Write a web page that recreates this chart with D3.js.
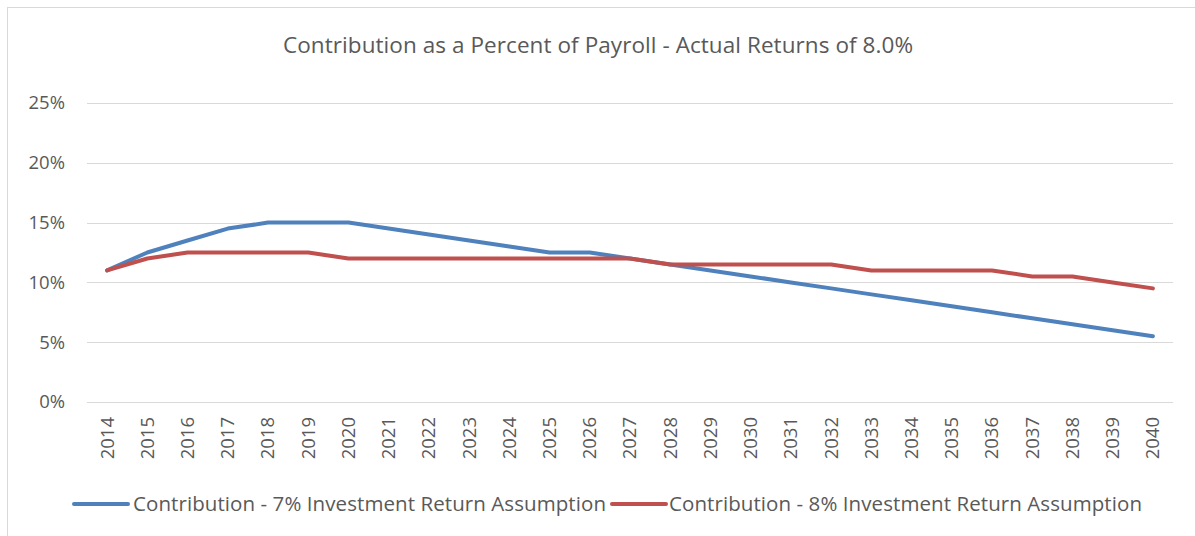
<!DOCTYPE html>
<meta charset="utf-8">
<script src="https://d3js.org/d3.v7.min.js"></script>
<style>
  body { margin: 0; background: #fff; }
  text { font-family: "Open Sans", sans-serif; fill: #595959; }
</style>
<body>
</body>
<script>
  var years = ["2014","2015","2016","2017","2018","2019","2020","2021","2022","2023","2024","2025","2026","2027",
               "2028","2029","2030","2031","2032","2033","2034","2035","2036","2037","2038","2039","2040"];
  var contrib7 = [11, 12.5, 13.5, 14.5, 15, 15, 15, 14.5, 14, 13.5, 13, 12.5, 12.5, 12,
                  11.5, 11, 10.5, 10, 9.5, 9, 8.5, 8, 7.5, 7, 6.5, 6, 5.5];
  var contrib8 = [11, 12, 12.5, 12.5, 12.5, 12.5, 12, 12, 12, 12, 12, 12, 12, 12,
                  11.5, 11.5, 11.5, 11.5, 11.5, 11, 11, 11, 11, 10.5, 10.5, 10, 9.5];
  var yTicks = [0, 5, 10, 15, 20, 25];
  var seriesNames = ["Contribution - 7% Investment Return Assumption",
                     "Contribution - 8% Investment Return Assumption"];
  var colors = ["#4f81bd", "#c0504d"];

  var W = 1195, H = 536;
  var margin = {top: 103, right: 22, bottom: 134, left: 87};
  var width = W - margin.left - margin.right,
      height = H - margin.top - margin.bottom;

  var svg = d3.select("body").append("svg")
      .attr("width", W)
      .attr("height", H);

  // chart frame (only top/left edges show)
  svg.append("rect")
    .attr("x", 7.5).attr("y", 7.5)
    .attr("width", W).attr("height", H)
    .attr("fill", "none")
    .attr("stroke", "#d9d9d9");

  svg.append("text")
    .attr("x", 598).attr("y", 53)
    .attr("text-anchor", "middle")
    .style("font-size", "22.5px")
    .attr("textLength", 630)
    .text("Contribution as a Percent of Payroll - Actual Returns of 8.0%");

  var g = svg.append("g")
    .attr("transform", "translate(" + margin.left + "," + margin.top + ")");

  var x = d3.scaleBand().domain(years).range([0, width]);
  var y = d3.scaleLinear().domain([0, 25]).range([height, 0]);

  // gridlines
  g.append("g")
    .selectAll("line")
    .data(yTicks)
    .enter().append("line")
    .attr("x1", 0).attr("x2", width)
    .attr("y1", function(d) { return Math.round(y(d)) + 0.5; })
    .attr("y2", function(d) { return Math.round(y(d)) + 0.5; })
    .attr("stroke", "#d9d9d9");

  var yAxis = g.append("g")
    .call(d3.axisLeft(y).tickValues(yTicks).tickSize(0).tickPadding(22)
      .tickFormat(function(d) { return d + "%"; }));
  yAxis.select(".domain").remove();
  yAxis.selectAll("text").style("font-size", "18.5px").attr("fill", "#595959");

  var xAxis = g.append("g")
    .attr("transform", "translate(0," + height + ")")
    .call(d3.axisBottom(x).tickSize(0));
  xAxis.select(".domain").remove();
  xAxis.selectAll("text")
    .style("font-size", "18.5px")
    .attr("fill", "#595959")
    .attr("transform", "rotate(-90)")
    .attr("text-anchor", "end")
    .attr("x", -15)
    .attr("y", 0)
    .attr("dy", "0.35em");

  var line = d3.line()
    .x(function(d, i) { return x(years[i]) + x.bandwidth() / 2; })
    .y(function(d) { return y(d); });

  [contrib7, contrib8].forEach(function(s, i) {
    g.append("path")
      .datum(s)
      .attr("fill", "none")
      .attr("stroke", colors[i])
      .attr("stroke-width", 4)
      .attr("stroke-linejoin", "round")
      .attr("stroke-linecap", "round")
      .attr("d", line);
  });

  // legend
  var legendX = [74, 612];
  var legendGap = [59, 57];
  var legend = svg.selectAll(".legend")
    .data(seriesNames)
    .enter().append("g")
    .attr("class", "legend")
    .attr("transform", function(d, i) { return "translate(" + legendX[i] + ",504)"; });

  legend.append("line")
    .attr("x1", 0).attr("x2", 54)
    .attr("stroke", function(d, i) { return colors[i]; })
    .attr("stroke-width", 4)
    .attr("stroke-linecap", "round");

  legend.append("text")
    .attr("x", function(d, i) { return legendGap[i]; })
    .attr("dy", "0.35em")
    .style("font-size", "20.5px")
    .attr("textLength", 473)
    .text(function(d) { return d; });
</script>
